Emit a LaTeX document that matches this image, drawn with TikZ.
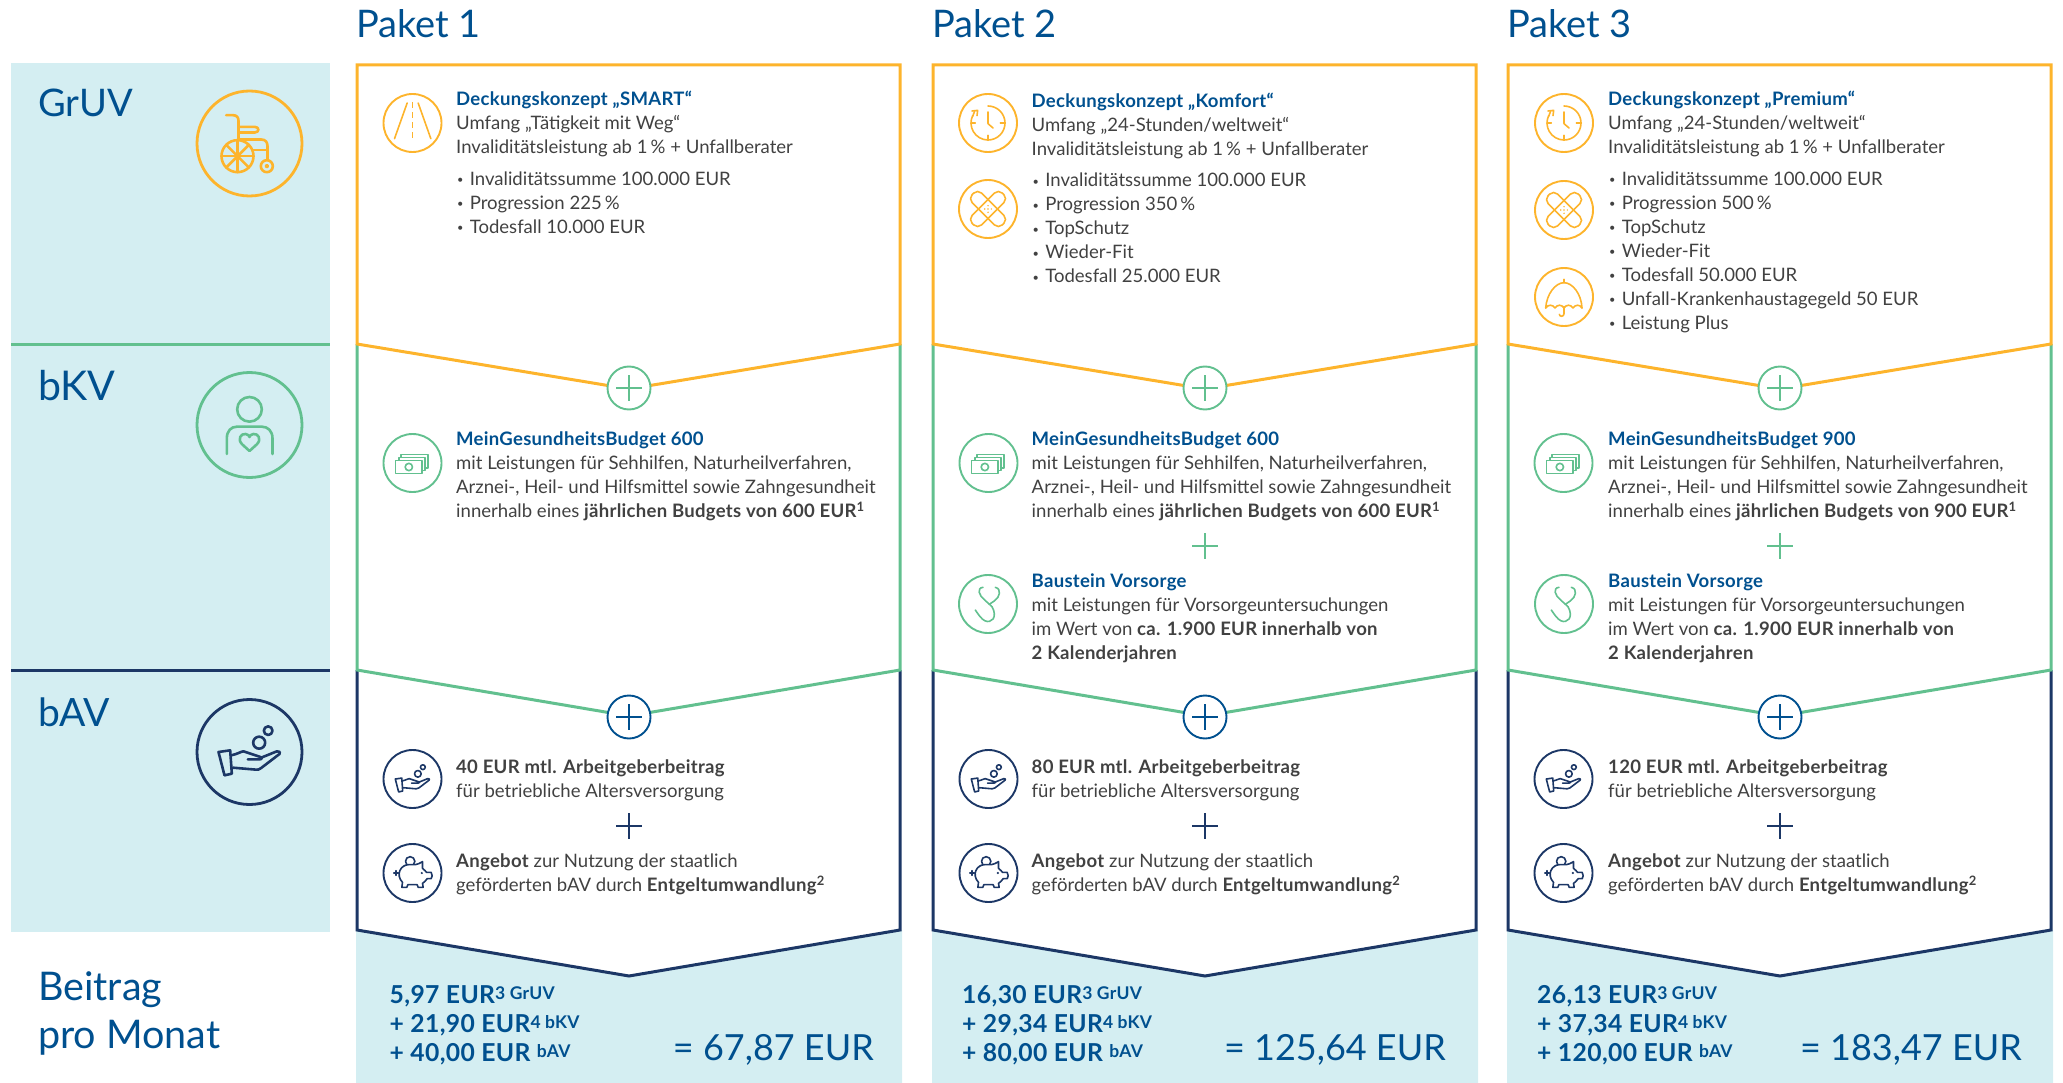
\documentclass[tikz,border=0pt]{standalone}
\usepackage{fontspec}
\setmainfont{Lato}[BoldFeatures={LetterSpace=1.5}]
\definecolor{alo}{HTML}{FDB42C}
\definecolor{alg}{HTML}{62C08F}
\definecolor{aln}{HTML}{1C3766}
\definecolor{alb}{HTML}{00508F}
\definecolor{ink}{HTML}{414141}
\definecolor{pale}{HTML}{D4EEF2}
\newcommand{\ti}[1]{{\bfseries\color{alb}#1}}
\newcommand{\bu}{\makebox[13.6pt][l]{\hspace{1pt}\raisebox{1.5pt}{\fontsize{11}{11}\selectfont\textbullet}}}
\newcommand{\sm}[1]{\raisebox{4pt}{\fontsize{17.5}{16}\selectfont #1}}
\newcommand{\up}[1]{\textsuperscript{#1}}
\tikzset{
  x=1pt,y=-1pt,
  heading/.style={anchor=base west,inner sep=0,text=alb,font=\fontsize{38}{38}\selectfont},
  body/.style={anchor=north west,inner sep=0,align=left,text=ink,font=\fontsize{18.55}{24}\selectfont,execute at begin node={\rule{0pt}{16pt}}},
  sumtxt/.style={anchor=north west,inner sep=0,align=left,text=alb,font=\fontsize{24.7}{29}\bfseries\selectfont,execute at begin node={\rule{0pt}{18pt}}},
  total/.style={anchor=base east,inner sep=0,text=alb,font=\fontsize{36}{37}\selectfont},
  bigring/.style={circle,draw=#1,line width=2.8pt,minimum size=105pt,inner sep=0},
  ring/.style={circle,draw=#1,line width=1.9pt,minimum size=58pt,inner sep=0},
  plusring/.style={circle,draw=#1,fill=white,line width=1.9pt,minimum size=43pt,inner sep=0},
  edgeline/.style={draw=#1,line width=3pt,line join=miter},
  big/.style={scale=1/3,draw=#1,line width=2.6pt,line cap=round,line join=round},
  small/.style={scale=1/3,draw=#1,line width=1.6pt,line cap=round,line join=round},
  pics/wheelchair/.style={code={
    \draw[pic actions] (-36,38) circle[radius=48];
    \foreach \a in {0,45,90,135} {\draw[pic actions] (-36,38)+(\a:48) -- +(\a+180:48);}
    \draw[pic actions] (-70,-85) -- (-50,-85) .. controls (-38,-85) and (-33,-78) .. (-33,-68) -- (-33,-10);
    \draw[pic actions] (-33,-50) -- (16,-50) .. controls (30,-50) and (30,-33) .. (16,-33) -- (-33,-33);
    \draw[pic actions] (-33,-12) -- (35,-12) .. controls (48,-12) and (54,-4) .. (54,8) -- (54,50);
    \draw[pic actions] (10,20) -- (54,20);
    \draw[pic actions] (52,68) circle[radius=18];
    \draw[pic actions] (52,68) circle[radius=3];
  }},
  pics/person/.style={code={
    \draw[pic actions] (0,-47) circle[radius=37];
    \draw[pic actions] (-68,87) -- (-68,40) .. controls (-68,18) and (-55,5) .. (-38,5) -- (37,5) .. controls (55,5) and (69,18) .. (69,40) -- (69,87);
    \draw[pic actions] (0,78) -- (-22,58) .. controls (-38,42) and (-25,25) .. (-12,27) .. controls (-5,28) and (0,32) .. (0,36) .. controls (0,32) and (5,28) .. (12,27) .. controls (25,25) and (38,42) .. (22,58) -- cycle;
  }},
  pics/hand/.style={code={
    \draw[pic actions] (-93,0) -- (-58,-5) -- (-53,65) -- (-75,70) -- cycle;
    \draw[pic actions] (-55,10) .. controls (-35,6) and (-25,-2) .. (-18,-2) -- (30,14) .. controls (40,17) and (38,22) .. (30,22) -- (-5,22);
    \draw[pic actions] (35,17) -- (82,-2) .. controls (90,-4) and (95,2) .. (90,6) -- (35,48) .. controls (30,53) and (25,53) .. (20,53) -- (-50,47);
    \draw[pic actions] (29,-28) circle[radius=18];
    \draw[pic actions] (56,-64) circle[radius=13];
  }},
  pics/road/.style={code={
    \draw[pic actions] (-16,-60) -- (-54,47);
    \draw[pic actions] (17,-60) -- (55,47);
    \draw[pic actions,line cap=butt,dash pattern=on 6pt off 4pt] (0,-63) -- (0,50);
  }},
  pics/clock/.style={code={
    \draw[pic actions] (0,-51) arc[start angle=-90,end angle=205,radius=51];
    \draw[pic actions] (0,-33) -- (0,2) -- (15,15);
    \draw[pic actions] (37,0) -- (52,0);
    \draw[pic actions] (0,37) -- (0,52);
    \draw[pic actions] (-51,0) -- (-38,0);
    \draw[pic actions] (-46,-20) -- (-40,-36);
    \draw[pic actions] (-48,-36) -- (-31,-38) -- (-33,-22);
  }},
  pics/bandage/.style={code={
    \draw[pic actions,rotate=45,rounded corners=5.5pt] (-64,-20) rectangle (64,20);
    \draw[pic actions,rotate=-45,rounded corners=5.5pt] (-64,-20) rectangle (64,20);
    \foreach \p in {(0,-10),(-10,0),(0,0),(10,0),(0,10)} {\fill[alo] \p circle[radius=2.5];}
  }},
  pics/umbrella/.style={code={
    \draw[pic actions] (-55,33) .. controls (-52,-10) and (-25,-43) .. (0,-43) .. controls (25,-43) and (52,-10) .. (54,33);
    \draw[pic actions] (-55,33) .. controls (-48,22) and (-34,22) .. (-27,33) .. controls (-20,22) and (-7,22) .. (0,33) .. controls (7,22) and (20,22) .. (27,33) .. controls (34,22) and (48,22) .. (54,33);
    \draw[pic actions] (0,-53) -- (0,-43);
    \draw[pic actions] (0,28) -- (0,50) .. controls (0,60) and (-14,60) .. (-14,52);
  }},
  pics/cash/.style={code={
    \draw[pic actions] (-51,-7) rectangle (29,31);
    \draw[pic actions] (-11,12) circle[radius=11];
    \draw[pic actions] (-41,-9) -- (-41,-17) -- (37,-17) -- (37,23) -- (29,23);
    \draw[pic actions] (-35,-17) -- (-35,-25) -- (47,-25) -- (47,15) -- (37,15);
  }},
  pics/stetho/.style={code={
    \draw[pic actions] (-15,-50) .. controls (-35,-48) and (-27,-25) .. (-10,-12) -- (12,8);
    \draw[pic actions] (22,-50) .. controls (42,-45) and (35,-20) .. (20,-10) -- (4,1);
    \draw[pic actions] (12,8) .. controls (30,40) and (10,60) .. (-10,50) .. controls (-20,45) and (-30,30) .. (-38,18);
  }},
  pics/piggy/.style={code={
    \draw[pic actions] (-7,-35) circle[radius=14];
    \draw[pic actions,fill=white] (-30,28) .. controls (-52,5) and (-35,-25) .. (-12,-25) -- (8,-25) .. controls (15,-25) and (22,-30) .. (30,-34) -- (30,-14) .. controls (36,-10) and (40,-4) .. (42,-2) -- (56,-2) .. controls (60,5) and (60,12) .. (56,17) -- (44,17) .. controls (40,24) and (34,28) .. (30,31) -- (32,43) -- (17,43) -- (14,35) -- (-14,35) -- (-17,43) -- (-32,43) -- cycle;
    \fill[aln] (28,0) circle[radius=3.5];
    \draw[pic actions] (-56,0) -- (-42,0);
    \draw[pic actions] (-49,-7) -- (-49,7);
  }},
  pics/plusmark/.style={code={
    \draw[pic actions,line cap=butt] (-13,0) -- (13,0);
    \draw[pic actions,line cap=butt] (0,-13) -- (0,13);
  }},
}
\begin{document}
\begin{tikzpicture}
\useasboundingbox (0,0) rectangle (2063,1083);
% left column
\fill[pale] (11,63) rectangle (330,932);
\fill[white] (11,932) rectangle (330,1083);
\draw[alg,line width=3pt] (11,344) -- (330,344);
\draw[aln,line width=3pt] (11,670) -- (330,670);
\node[heading] (lgruv) at (38,117) {GrUV};
\node[heading,font=\fontsize{41}{41}\selectfont] (lbkv) at (38,400) {bKV};
\node[heading,font=\fontsize{39}{39}\selectfont] (lbav) at (38,726) {bAV};
\node[heading,align=left,anchor=north west,font=\fontsize{39.5}{48}\selectfont,execute at begin node={\rule{0pt}{27pt}}] (lbeitrag) at (38,971) {Beitrag\\pro Monat};
\node[bigring=alo] (cgruv) at (249.5,143.5) {};
\pic[big=alo] at (cgruv.center) {wheelchair};
\node[bigring=alg] (cbkv) at (249.5,425) {};
\pic[big=alg] at (cbkv.center) {person};
\node[bigring=aln] (cbav) at (249.5,752) {};
\pic[big=aln] at (cbav.center) {hand};
% package frames
\foreach \xo/\xt/\n in {357/456/a,933/1031.5/b,1508/1608/c} {
  \coordinate (ol\n) at (\xo,344);
  \coordinate (or\n) at (\xo+543,344);
  \coordinate (oc\n) at (\xo+272,389);
  \coordinate (gl\n) at (\xo,670);
  \coordinate (gr\n) at (\xo+543,670);
  \coordinate (gc\n) at (\xo+272,716);
  \coordinate (nl\n) at (\xo,930);
  \coordinate (nr\n) at (\xo+543,930);
  \coordinate (nc\n) at (\xo+272,976);
  \coordinate (tl\n) at (\xo,65);
  \coordinate (tr\n) at (\xo+543,65);
  \coordinate (bl\n) at (\xo-1,1083);
  \coordinate (br\n) at (\xo+545,1083);
  \fill[pale] (nl\n) -- (nc\n) -- (nr\n) -- (\xo+545,930) -- (br\n) -- (bl\n) -- (\xo-1,930) -- cycle;
  \draw[edgeline=aln] (gl\n) -- (nl\n) -- (nc\n) -- (nr\n) -- (gr\n);
  \draw[edgeline=alg] (ol\n) -- (gl\n) -- (gc\n) -- (gr\n) -- (or\n);
  \draw[edgeline=alo] (ol\n) -- (tl\n) -- (tr\n) -- (or\n) -- (oc\n) -- cycle;
  \node[plusring=alg] (po\n) at (\xo+272,388) {};
  \pic[draw=alg,line width=2pt] at (po\n.center) {plusmark};
  \node[plusring=alb] (pg\n) at (\xo+272,717) {};
  \pic[draw=alb,line width=2pt] at (pg\n.center) {plusmark};
  \node[ring=alg] (ibudget\n) at (\xo+55.5,463) {};
  \pic[small=alg] at (ibudget\n.center) {cash};
  \node[ring=aln] (ihand\n) at (\xo+55.5,779) {};
  \pic[scale=.185,draw=aln,line width=1.6pt,line cap=round,line join=round] at (ihand\n.center) {hand};
  \node[ring=aln] (ipig\n) at (\xo+55.5,873) {};
  \pic[small=aln] at (ipig\n.center) {piggy};
  \pic[draw=aln,line width=1.8pt] at (\xo+272,826) {plusmark};
  \node[body] (ang\n) at (\xt,853.5) {\textbf{Angebot} zur Nutzung der staatlich\\geförderten bAV durch \textbf{Entgeltumwandlung}\up{\textbf{2}}};
}
% Paket headings
\node[heading] (p1) at (356,37.5) {Paket 1};
\node[heading] (p2) at (932,37.5) {Paket 2};
\node[heading] (p3) at (1507,37.5) {Paket 3};
% Paket 1
\node[ring=alo] (ir1) at (412.5,123) {};
\pic[small=alo] at (ir1.center) {road};
\node[body] (h1) at (456,91) {\ti{Deckungskonzept „SMART“}\\Umfang „Tätigkeit mit Weg“\\Invaliditätsleistung ab 1\,\% + Unfallberater};
\node[body] (l1) at (456,171.5) {\bu Invaliditätssumme 100.000 EUR\\\bu Progression 225\,\%\\\bu Todesfall 10.000 EUR};
\node[body] (b1) at (456,431.5) {\ti{MeinGesundheitsBudget 600}\\mit Leistungen für Sehhilfen, Naturheilverfahren,\\Arznei-, Heil- und Hilfsmittel sowie Zahngesundheit\\innerhalb eines \textbf{jährlichen Budgets von 600 EUR\up{1}}};
\node[body] (v1) at (456,759.5) {\textbf{40 EUR mtl. Arbeitgeberbeitrag}\\für betriebliche Altersversorgung};
\node[sumtxt] (s1) at (389.5,985.5) {5,97 EUR\sm{3 GrUV}\\+ 21,90 EUR\sm{4 bKV}\\+ 40,00 EUR \sm{bAV}};
\node[total] (t1) at (874,1060) {= 67,87 EUR};
% Paket 2
\node[ring=alo] (ic2) at (988,123) {};
\pic[small=alo] at (ic2.center) {clock};
\node[ring=alo] (ia2) at (988,209) {};
\pic[small=alo] at (ia2.center) {bandage};
\node[body] (h2) at (1031.5,92.5) {\ti{Deckungskonzept „Komfort“}\\Umfang „24-Stunden/weltweit“\\Invaliditätsleistung ab 1\,\% + Unfallberater};
\node[body] (l2) at (1031.5,173) {\bu Invaliditätssumme 100.000 EUR\\\bu Progression 350\,\%\\\bu TopSchutz\\\bu Wieder-Fit\\\bu Todesfall 25.000 EUR};
\node[body] (b2) at (1031.5,431.5) {\ti{MeinGesundheitsBudget 600}\\mit Leistungen für Sehhilfen, Naturheilverfahren,\\Arznei-, Heil- und Hilfsmittel sowie Zahngesundheit\\innerhalb eines \textbf{jährlichen Budgets von 600 EUR\up{1}}};
\pic[draw=alg,line width=1.8pt] at (1205,546) {plusmark};
\node[ring=alg] (is2) at (988,604) {};
\pic[small=alg] at (is2.center) {stetho};
\node[body] (o2) at (1031.5,573.5) {\ti{Baustein Vorsorge}\\mit Leistungen für Vorsorgeuntersuchungen\\im Wert von \textbf{ca. 1.900 EUR innerhalb von}\\\textbf{2 Kalenderjahren}};
\node[body] (v2) at (1031.5,759.5) {\textbf{80 EUR mtl. Arbeitgeberbeitrag}\\für betriebliche Altersversorgung};
\node[sumtxt] (s2) at (962,985.5) {16,30 EUR\sm{3 GrUV}\\+ 29,34 EUR\sm{4 bKV}\\+ 80,00 EUR \sm{bAV}};
\node[total] (t2) at (1446,1060) {= 125,64 EUR};
% Paket 3
\node[ring=alo] (ic3) at (1564,123) {};
\pic[small=alo] at (ic3.center) {clock};
\node[ring=alo] (ia3) at (1564,210) {};
\pic[small=alo] at (ia3.center) {bandage};
\node[ring=alo] (iu3) at (1564,297) {};
\pic[small=alo] at (iu3.center) {umbrella};
\node[body] (h3) at (1608,91) {\ti{Deckungskonzept „Premium“}\\Umfang „24-Stunden/weltweit“\\Invaliditätsleistung ab 1\,\% + Unfallberater};
\node[body] (l3) at (1608,171.5) {\bu Invaliditätssumme 100.000 EUR\\\bu Progression 500\,\%\\\bu TopSchutz\\\bu Wieder-Fit\\\bu Todesfall 50.000 EUR\\\bu Unfall-Krankenhaustagegeld 50 EUR\\\bu Leistung Plus};
\node[body] (b3) at (1608,431.5) {\ti{MeinGesundheitsBudget 900}\\mit Leistungen für Sehhilfen, Naturheilverfahren,\\Arznei-, Heil- und Hilfsmittel sowie Zahngesundheit\\innerhalb eines \textbf{jährlichen Budgets von 900 EUR\up{1}}};
\pic[draw=alg,line width=1.8pt] at (1780,546) {plusmark};
\node[ring=alg] (is3) at (1564,604) {};
\pic[small=alg] at (is3.center) {stetho};
\node[body] (o3) at (1608,573.5) {\ti{Baustein Vorsorge}\\mit Leistungen für Vorsorgeuntersuchungen\\im Wert von \textbf{ca. 1.900 EUR innerhalb von}\\\textbf{2 Kalenderjahren}};
\node[body] (v3) at (1608,759.5) {\textbf{120 EUR mtl. Arbeitgeberbeitrag}\\für betriebliche Altersversorgung};
\node[sumtxt] (s3) at (1537,985.5) {26,13 EUR\sm{3 GrUV}\\+ 37,34 EUR\sm{4 bKV}\\+ 120,00 EUR \sm{bAV}};
\node[total] (t3) at (2022,1060) {= 183,47 EUR};
\end{tikzpicture}
\end{document}
